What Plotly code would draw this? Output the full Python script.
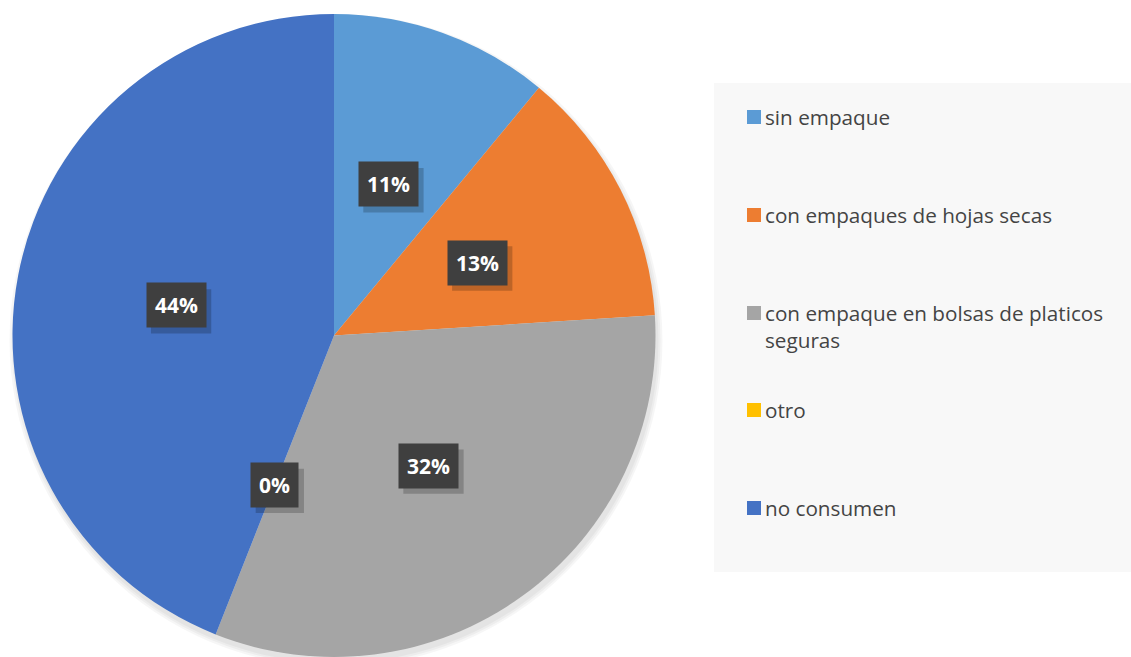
import math
import plotly.graph_objects as go

# Survey: packaging type of the product consumed
labels = ["sin empaque", "con empaques de hojas secas",
          "con empaque en bolsas de platicos seguras", "otro", "no consumen"]
legend_text = ["sin empaque", "con empaques de hojas secas",
               "con empaque en bolsas de platicos<br>seguras", "otro", "no consumen"]
values = [11, 13, 32, 0, 44]
colors = ["#5B9BD5", "#ED7D31", "#A5A5A5", "#FFC000", "#4472C4"]

W, H = 1131, 657
cx_px, cy_px, r_px = 334, 335.5, 321.5   # pie centre / radius in pixels


def px_x(x):
    return x / W


def px_y(y):
    return 1 - y / H


fig = go.Figure()

# soft shadow under the pie
for k, a in enumerate([0.035, 0.035, 0.035]):
    rr = r_px + 1 + 2 * k
    sx, sy = cx_px + 2, cy_px + 5
    fig.add_shape(type="circle", xref="paper", yref="paper",
                  x0=px_x(sx - rr), x1=px_x(sx + rr), y0=px_y(sy + rr), y1=px_y(sy - rr),
                  fillcolor=f"rgba(0,0,0,{a})", line=dict(width=0), layer="below")

fig.add_trace(go.Pie(
    labels=labels, values=values, sort=False, direction="clockwise",
    rotation=0, marker=dict(colors=colors, line=dict(width=0)),
    textinfo="none", hoverinfo="label+percent", showlegend=False,
    domain=dict(x=[px_x(cx_px - r_px), px_x(cx_px + r_px)],
                y=[px_y(cy_px + r_px), px_y(cy_px - r_px)]),
))

# Percentage labels in dark boxes, placed at half radius on each slice's mid-angle
FS, PAD = 21, 8
total = sum(values)
cum = 0
for v in values:
    mid = (cum + v / 2) / total * 2 * math.pi
    cum += v
    px = cx_px + 0.5 * r_px * math.sin(mid)
    py = cy_px - 0.5 * r_px * math.cos(mid)
    pct = f"{round(100 * v / total)}%"
    bw = (len(pct) - 1) * 0.572 * FS + 0.87 * FS + 2 * PAD + 2
    bh = 1.3 * FS + 2 * PAD + 1
    # drop shadow behind the label box
    fig.add_shape(type="rect", xref="paper", yref="paper",
                  x0=px_x(px - bw / 2 + 5), x1=px_x(px + bw / 2 + 5),
                  y0=px_y(py + bh / 2 + 6), y1=px_y(py - bh / 2 + 6),
                  fillcolor="rgba(0,0,0,0.2)", line=dict(width=0), layer="above")
    fig.add_annotation(x=px_x(px), y=px_y(py), xref="paper", yref="paper",
                       xanchor="center", yanchor="middle",
                       text=f"<b>{pct}</b>", showarrow=False, borderpad=PAD,
                       font=dict(family="Open Sans", size=FS, color="white"),
                       bgcolor="#3F3F3F")

# Legend panel
fig.add_shape(type="rect", xref="paper", yref="paper",
              x0=px_x(714), x1=1.0, y0=px_y(572), y1=px_y(83),
              fillcolor="#F8F8F8", line=dict(width=0), layer="below")

LFS = 20.7
legend_y = [117, 215, 313, 410, 508]
for lab, col, ly in zip(legend_text, colors, legend_y):
    fig.add_shape(type="rect", xref="paper", yref="paper",
                  x0=px_x(747), x1=px_x(761), y0=px_y(ly + 7), y1=px_y(ly - 7),
                  fillcolor=col, line=dict(width=0))
    fig.add_annotation(x=px_x(763), y=px_y(ly - 0.76 * LFS), xref="paper", yref="paper",
                       text=lab, showarrow=False, xanchor="left", yanchor="top",
                       align="left",
                       font=dict(family="Open Sans", size=LFS, color="#444444"))

fig.update_layout(width=W, height=H, margin=dict(l=0, r=0, t=0, b=0),
                  paper_bgcolor="white", plot_bgcolor="white")
fig.write_html("out.html")
